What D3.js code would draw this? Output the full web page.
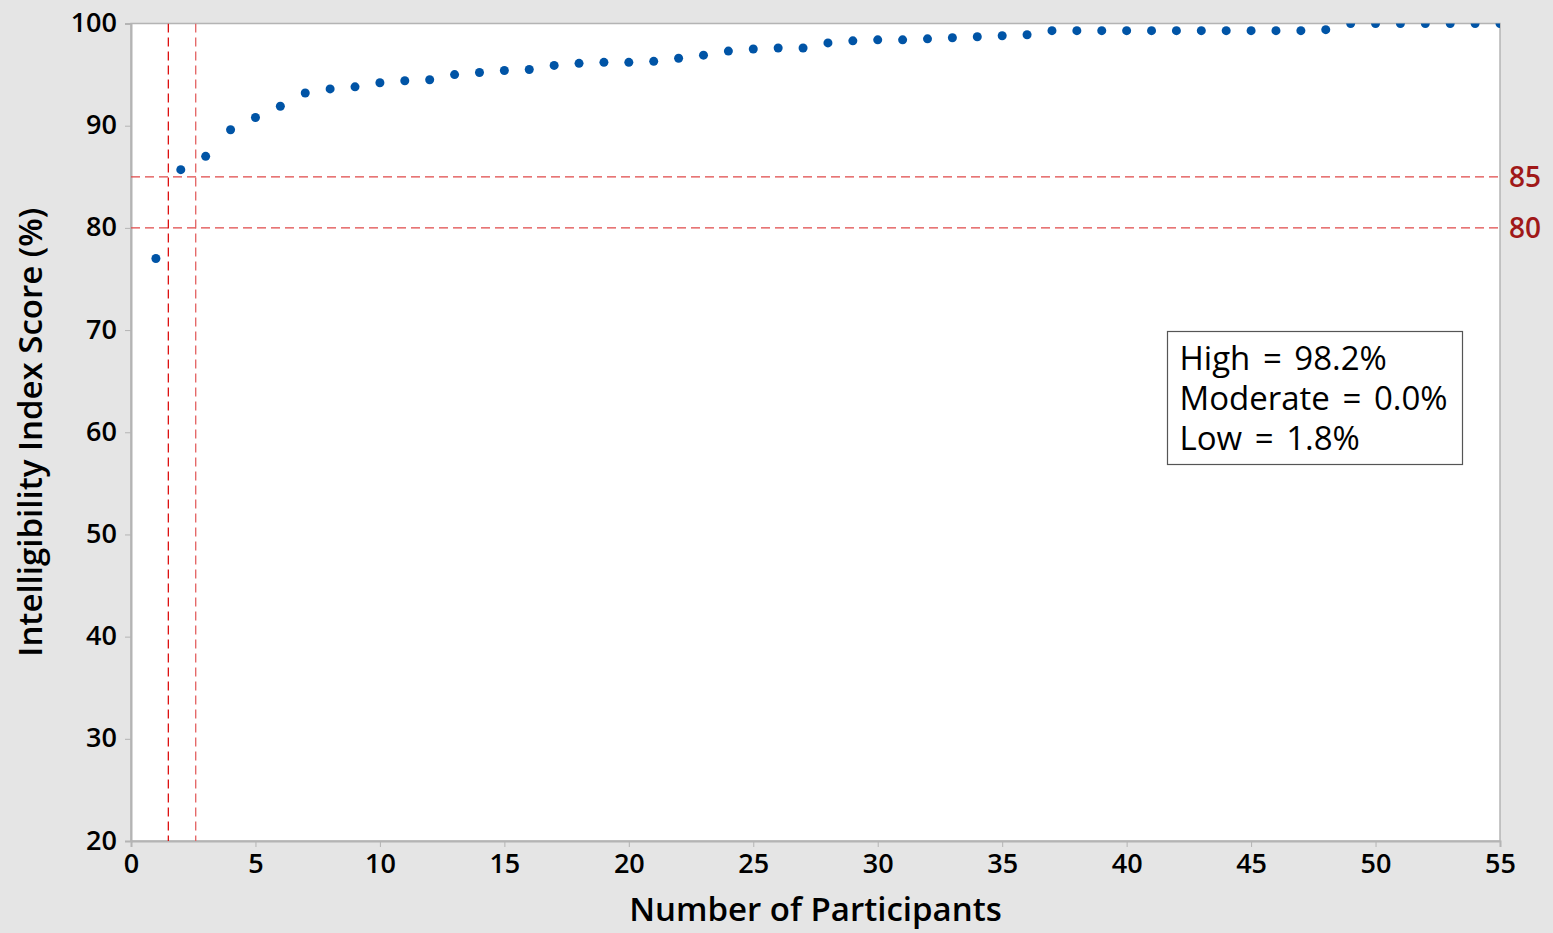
<!DOCTYPE html>
<html>
<head>
<meta charset="utf-8">
<script src="https://cdn.jsdelivr.net/npm/d3@7"></script>
<style>
  body { margin: 0; background: #e5e5e5; }
  svg { display: block; font-family: "Open Sans", "Noto Sans", sans-serif; }
</style>
</head>
<body>
<div id="chart"></div>
<script>
// participants (x) and their intelligibility scores (y)
const participants = d3.range(1, 56);
const scores = [
  77.0, 85.7, 87.0, 89.6, 90.8, 91.9, 93.2, 93.6, 93.8, 94.2,
  94.4, 94.5, 95.0, 95.2, 95.4, 95.5, 95.9, 96.1, 96.2, 96.2,
  96.3, 96.6, 96.9, 97.3, 97.5, 97.6, 97.6, 98.1, 98.3, 98.4,
  98.4, 98.5, 98.6, 98.7, 98.8, 98.9, 99.3, 99.3, 99.3, 99.3,
  99.3, 99.3, 99.3, 99.3, 99.3, 99.3, 99.3, 99.4, 100, 100,
  100, 100, 100, 100, 100
];
const xTicks = [0, 5, 10, 15, 20, 25, 30, 35, 40, 45, 50, 55];
const yTicks = [20, 30, 40, 50, 60, 70, 80, 90, 100];
const refLines = [85, 80];        // horizontal thresholds
const vLines = [1.5, 2.6];        // vertical markers
const legendLines = ["High = 98.2%", "Moderate = 0.0%", "Low = 1.8%"];

const W = 1553, H = 933;
const margin = {top: 23.5, right: 53, bottom: 92, left: 131};
const width = W - margin.left - margin.right,
      height = H - margin.top - margin.bottom;

const svg = d3.select("#chart").append("svg")
    .attr("width", W)
    .attr("height", H);

svg.append("rect").attr("width", W).attr("height", H).attr("fill", "#e5e5e5");

const g = svg.append("g")
    .attr("transform", "translate(" + margin.left + "," + margin.top + ")");

const x = d3.scaleLinear().domain([0, 55]).range([0, width]);
const y = d3.scaleLinear().domain([20, 100]).range([height, 0]);

g.append("rect")
    .attr("width", width).attr("height", height)
    .attr("fill", "#fff");

g.append("clipPath").attr("id", "clip")
  .append("rect").attr("width", width).attr("height", height);

// frame
g.append("rect")
    .attr("width", width).attr("height", height)
    .attr("fill", "none")
    .attr("stroke", "#b4b4b4")
    .attr("stroke-width", 1.5);

// axes
const xAxis = g.append("g")
    .attr("transform", `translate(0,${height})`)
    .call(d3.axisBottom(x).tickValues(xTicks).tickSize(6).tickPadding(7));
const yAxis = g.append("g")
    .call(d3.axisLeft(y).tickValues(yTicks).tickSize(6).tickPadding(8));

[xAxis, yAxis].forEach(a => {
  a.select(".domain").attr("stroke", "#b4b4b4").attr("stroke-width", 2);
  a.selectAll(".tick line").attr("stroke", "#b4b4b4");
  a.selectAll("text")
    .attr("fill", "#000")
    .style("font-size", "27px")
    .style("font-weight", 600)
    .style("font-family", "'Open Sans', sans-serif");
});
yAxis.selectAll("text").attr("dy", "0.3em");

// reference lines
const ref = g.append("g").attr("clip-path", "url(#clip)");
ref.selectAll(".hline")
  .data(refLines)
  .join("line")
    .attr("x1", 0).attr("x2", width)
    .attr("y1", d => y(d)).attr("y2", d => y(d))
    .attr("stroke", "#e04848")
    .attr("stroke-width", 1.3)
    .attr("stroke-dasharray", "9,5");

ref.selectAll(".vline")
  .data(vLines)
  .join("line")
    .attr("x1", d => x(d)).attr("x2", d => x(d))
    .attr("y1", 0).attr("y2", height)
    .attr("stroke", (d, i) => i === 0 ? "#dd1010" : "#e36060")
    .attr("stroke-width", 1.3)
    .attr("stroke-dasharray", "9,5");

g.selectAll(".reflabel")
  .data(refLines)
  .join("text")
    .attr("x", width + 9)
    .attr("y", d => y(d))
    .attr("dy", "0.35em")
    .attr("fill", "#a01818")
    .style("font-size", "28px")
    .style("font-weight", 600)
    .text(d => d);

// points
g.append("g").attr("clip-path", "url(#clip)")
  .selectAll("circle")
  .data(participants)
  .join("circle")
    .attr("cx", d => x(d))
    .attr("cy", (d, i) => y(scores[i]))
    .attr("r", 4.5)
    .attr("fill", "#0054a6");

// legend box
const lg = svg.append("g").attr("transform", "translate(1167.5,331.5)");
lg.append("rect")
    .attr("width", 295).attr("height", 133)
    .attr("fill", "#fff")
    .attr("stroke", "#555")
    .attr("stroke-width", 1.2);
lg.selectAll("text")
  .data(legendLines)
  .join("text")
    .attr("x", 12)
    .attr("y", (d, i) => 38 + i * 40)
    .attr("fill", "#000")
    .style("font-size", "33px")
    .style("word-spacing", "4px")
    .text(d => d);

// axis titles
svg.append("text")
    .attr("x", margin.left + width / 2)
    .attr("y", 921)
    .attr("text-anchor", "middle")
    .style("font-size", "33px")
    .style("font-weight", 600)
    .text("Number of Participants");

svg.append("text")
    .attr("transform", `translate(42,${margin.top + height / 2}) rotate(-90)`)
    .attr("text-anchor", "middle")
    .style("font-size", "33px")
    .style("font-weight", 600)
    .text("Intelligibility Index Score (%)");
</script>
</body>
</html>
